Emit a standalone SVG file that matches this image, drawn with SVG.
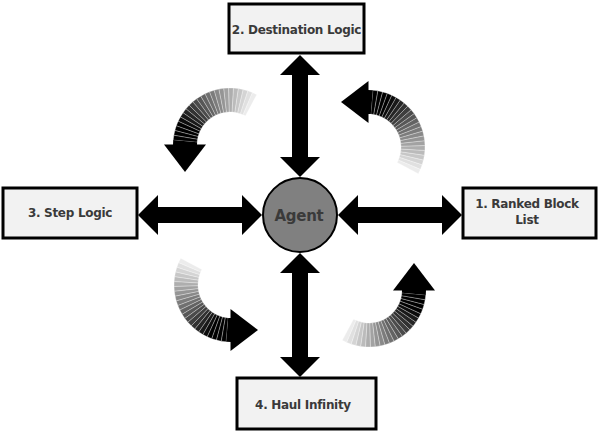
<svg xmlns="http://www.w3.org/2000/svg" xmlns:xlink="http://www.w3.org/1999/xlink" width="598" height="434" viewBox="0 0 598 434">
<style>
.box{fill:#f2f2f2;stroke:#000;stroke-width:3}
.lbl{font-family:"DejaVu Sans",Verdana,sans-serif;font-weight:bold;font-size:12px;letter-spacing:-0.3px;fill:#3a3a3a;text-anchor:middle}
.agent{font-family:"DejaVu Sans",Verdana,sans-serif;font-weight:bold;font-size:15px;letter-spacing:-0.3px;fill:#3a3a3a;text-anchor:middle}
.dbl{fill:#000}
.seg polygon{stroke:#fff;stroke-width:0.3;stroke-linejoin:round}
</style>
<defs>
<g id="carrow">
<g class="seg">
<polygon fill="#ececec" points="26.76,-50.33 22.35,-52.44 12.94,-30.36 15.49,-29.14"/>
<polygon fill="#e0e0e0" points="22.35,-52.44 17.77,-54.16 10.29,-31.35 12.94,-30.36"/>
<polygon fill="#d4d4d4" points="17.77,-54.16 13.06,-55.48 7.56,-32.12 10.29,-31.35"/>
<polygon fill="#c7c7c7" points="13.06,-55.48 8.26,-56.40 4.78,-32.65 7.56,-32.12"/>
<polygon fill="#bbbbbb" points="8.26,-56.40 3.40,-56.90 1.97,-32.94 4.78,-32.65"/>
<polygon fill="#aeaeae" points="3.40,-56.90 -1.49,-56.98 -0.86,-32.99 1.97,-32.94"/>
<polygon fill="#a2a2a2" points="-1.49,-56.98 -6.37,-56.64 -3.69,-32.79 -0.86,-32.99"/>
<polygon fill="#959595" points="-6.37,-56.64 -11.20,-55.89 -6.48,-32.36 -3.69,-32.79"/>
<polygon fill="#898989" points="-11.20,-55.89 -15.95,-54.73 -9.23,-31.68 -6.48,-32.36"/>
<polygon fill="#7c7c7c" points="-15.95,-54.73 -20.58,-53.15 -11.92,-30.77 -9.23,-31.68"/>
<polygon fill="#707070" points="-20.58,-53.15 -25.06,-51.19 -14.51,-29.64 -11.92,-30.77"/>
<polygon fill="#636363" points="-25.06,-51.19 -29.36,-48.86 -17.00,-28.29 -14.51,-29.64"/>
<polygon fill="#575757" points="-29.36,-48.86 -33.44,-46.16 -19.36,-26.73 -17.00,-28.29"/>
<polygon fill="#4b4b4b" points="-33.44,-46.16 -37.27,-43.13 -21.58,-24.97 -19.36,-26.73"/>
<polygon fill="#3e3e3e" points="-37.27,-43.13 -40.86,-39.74 -23.66,-23.01 -21.58,-24.97"/>
<polygon fill="#323232" points="-40.86,-39.74 -44.09,-36.13 -25.53,-20.92 -23.66,-23.01"/>
<polygon fill="#252525" points="-44.09,-36.13 -47.01,-32.22 -27.22,-18.65 -25.53,-20.92"/>
<polygon fill="#191919" points="-47.01,-32.22 -49.61,-28.07 -28.72,-16.25 -27.22,-18.65"/>
<polygon fill="#0c0c0c" points="-49.61,-28.07 -51.83,-23.72 -30.01,-13.73 -28.72,-16.25"/>
<polygon fill="#000" points="-51.83,-23.72 -53.68,-19.19 -31.08,-11.11 -30.01,-13.73"/>
<polygon fill="#000" points="-53.68,-19.19 -55.12,-14.51 -31.91,-8.40 -31.08,-11.11"/>
<polygon fill="#000" points="-55.12,-14.51 -56.16,-9.74 -32.51,-5.64 -31.91,-8.40"/>
<polygon fill="#000" points="-56.16,-9.74 -56.79,-4.88 -32.88,-2.83 -32.51,-5.64"/>
</g>
<polygon fill="#000" points="-56.79,-4.88 -57,0 -33,0 -32.88,-2.83"/>
<path fill="#000" d="M-66,-0.5 L-24,-0.5 L-45,27 Z"/>
</g>
</defs>

<g id="cycle-arrows">
<use xlink:href="#carrow" href="#carrow" transform="translate(230,145)"/>
<use xlink:href="#carrow" href="#carrow" transform="translate(368,147) rotate(90)"/>
<use xlink:href="#carrow" href="#carrow" transform="translate(231,285) rotate(-90)"/>
<use xlink:href="#carrow" href="#carrow" transform="translate(369,290) rotate(180)"/>
</g>

<g id="connectors">
<polygon class="dbl" points="300,55 320,75 308,75 308,157 320,157 300,177 280,157 292,157 292,75 280,75"/>
<polygon class="dbl" points="300,253 320,273 308,273 308,357 320,357 300,377 280,357 292,357 292,273 280,273"/>
<polygon class="dbl" points="138,215 158,195 158,207 242,207 242,195 262,215 242,235 242,223 158,223 158,235"/>
<polygon class="dbl" points="338,215 358,195 358,207 442,207 442,195 462,215 442,235 442,223 358,223 358,235"/>
</g>

<g id="agent">
<circle cx="300" cy="215" r="37" fill="#808080" stroke="#000" stroke-width="2"/>
<text class="agent" x="299" y="221">Agent</text>
</g>

<g id="node-destination">
<rect class="box" x="229" y="4" width="135" height="49"/>
<text class="lbl" x="296.5" y="34">2. Destination Logic</text>
</g>

<g id="node-step">
<rect class="box" x="3" y="188" width="134" height="50"/>
<text class="lbl" x="70" y="217">3. Step Logic</text>
</g>

<g id="node-ranked">
<rect class="box" x="463" y="188" width="133" height="50"/>
<text class="lbl" x="527" y="208">1. Ranked Block</text>
<text class="lbl" x="527" y="224">List</text>
</g>

<g id="node-haul">
<rect class="box" x="237" y="378" width="139" height="51"/>
<text class="lbl" x="303" y="409">4. Haul Infinity</text>
</g>
</svg>
